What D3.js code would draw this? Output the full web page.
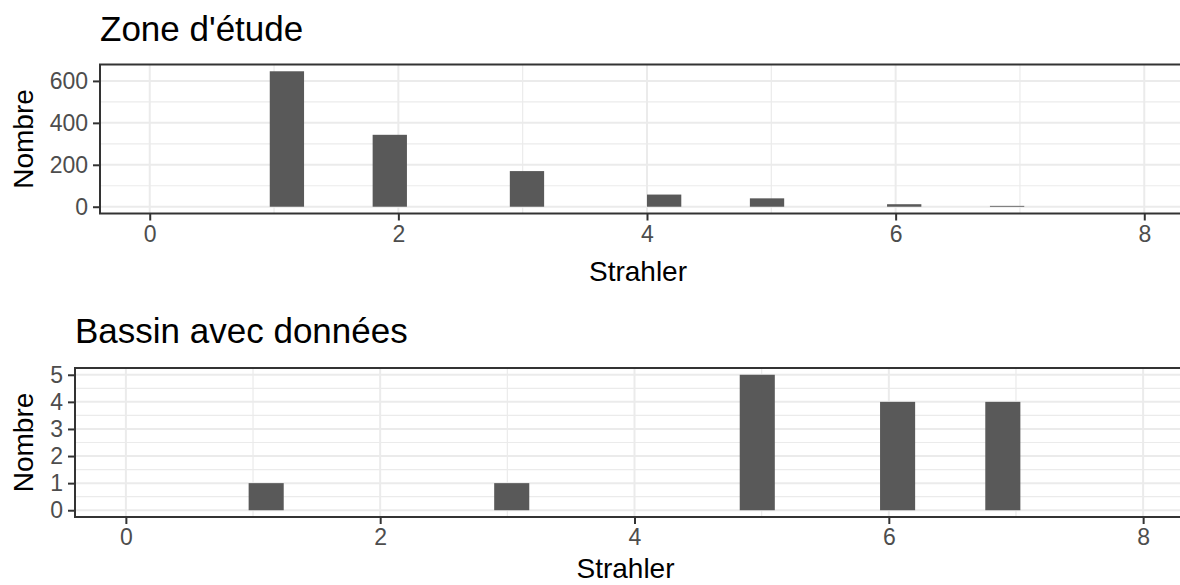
<!DOCTYPE html>
<html>
<head>
<meta charset="utf-8">
<script src="https://cdn.jsdelivr.net/npm/d3@7/dist/d3.min.js"></script>
<style>
  html, body { margin: 0; padding: 0; background: #ffffff; }
  svg { display: block; font-family: "Liberation Sans", Arial, Helvetica, sans-serif; }
</style>
</head>
<body>
<svg id="chart" width="1180" height="585"></svg>
<script>
// ---- data ----
const strahler = [1, 2, 3, 4, 5, 6, 7];
const countZone = [646, 343, 170, 58, 40, 12, 4];
const countBassin = [1, 0, 1, 0, 5, 4, 4];
const xTicks = [0, 2, 4, 6, 8];
const xMinorTicks = [1, 3, 5, 7];
const yTicksZone = [0, 200, 400, 600];
const yMinorZone = [100, 300, 500];
const yTicksBassin = [0, 1, 2, 3, 4, 5];
const yMinorBassin = [0.5, 1.5, 2.5, 3.5, 4.5];
const titles = ["Zone d'étude", "Bassin avec données"];
const xLabel = "Strahler";
const yLabel = "Nombre";
const xLimits = [0, 8];
const nBins = 30;

// ---- layout ----
const svg = d3.select("#chart");
const C = { bar: "#595959", grid: "#ebebeb", border: "#333333", tick: "#4d4d4d" };

const panels = [
  { title: titles[0], counts: countZone, yTicks: yTicksZone, yMinor: yMinorZone,
    left: 100, right: 1194, top: 64.5, bottom: 213.5, titleY: 41, xLabY: 281, yDomain: [0, 646] },
  { title: titles[1], counts: countBassin, yTicks: yTicksBassin, yMinor: yMinorBassin,
    left: 75, right: 1194, top: 368, bottom: 517, titleY: 343, xLabY: 578, yDomain: [0, 5] }
];

// histogram bins like ggplot2 (bins = 30 across the x limits)
const binW = (xLimits[1] - xLimits[0]) / (nBins - 1);
function binOf(v) {
  const k = Math.round((v - xLimits[0]) / binW);
  return { x0: xLimits[0] + (k - 0.5) * binW, x1: xLimits[0] + (k + 0.5) * binW };
}

panels.forEach(p => {
  const g = svg.append("g");
  const xr = xLimits[1] - xLimits[0];
  const x = d3.scaleLinear()
    .domain([xLimits[0] - 0.05 * xr, xLimits[1] + 0.05 * xr])
    .range([p.left, p.right]);
  const yr = p.yDomain[1] - p.yDomain[0];
  const y = d3.scaleLinear()
    .domain([p.yDomain[0] - 0.05 * yr, p.yDomain[1] + 0.05 * yr])
    .range([p.bottom, p.top]);

  const clipId = "clip" + Math.round(p.top);
  svg.append("clipPath").attr("id", clipId).append("rect")
    .attr("x", p.left).attr("y", p.top).attr("width", p.right - p.left).attr("height", p.bottom - p.top);
  const inner = g.append("g").attr("clip-path", `url(#${clipId})`);

  // minor grid
  inner.selectAll(".ymin").data(p.yMinor).join("line")
    .attr("x1", p.left).attr("x2", p.right).attr("y1", d => y(d)).attr("y2", d => y(d))
    .attr("stroke", C.grid).attr("stroke-width", 1.2);
  inner.selectAll(".xmin").data(xMinorTicks).join("line")
    .attr("y1", p.top).attr("y2", p.bottom).attr("x1", d => x(d)).attr("x2", d => x(d))
    .attr("stroke", C.grid).attr("stroke-width", 1.2);
  // major grid
  inner.selectAll(".ymaj").data(p.yTicks).join("line")
    .attr("x1", p.left).attr("x2", p.right).attr("y1", d => y(d)).attr("y2", d => y(d))
    .attr("stroke", C.grid).attr("stroke-width", 2);
  inner.selectAll(".xmaj").data(xTicks).join("line")
    .attr("y1", p.top).attr("y2", p.bottom).attr("x1", d => x(d)).attr("x2", d => x(d))
    .attr("stroke", C.grid).attr("stroke-width", 2);

  // bars
  const data = strahler.map((s, i) => Object.assign({ s, n: p.counts[i] }, binOf(s)));
  inner.selectAll(".bar").data(data.filter(d => d.n > 0)).join("rect")
    .attr("x", d => x(d.x0)).attr("width", d => x(d.x1) - x(d.x0))
    .attr("y", d => y(d.n)).attr("height", d => y(0) - y(d.n))
    .attr("fill", C.bar);

  // border
  g.append("rect").attr("x", p.left).attr("y", p.top)
    .attr("width", p.right - p.left).attr("height", p.bottom - p.top)
    .attr("fill", "none").attr("stroke", C.border).attr("stroke-width", 2);

  // axes
  const xa = g.append("g").attr("transform", `translate(0,${p.bottom})`)
    .call(d3.axisBottom(x).tickValues(xTicks).tickSize(7).tickPadding(5).tickFormat(d3.format("d")));
  const ya = g.append("g").attr("transform", `translate(${p.left},0)`)
    .call(d3.axisLeft(y).tickValues(p.yTicks).tickSize(7).tickPadding(5).tickFormat(d3.format("d")));
  [xa, ya].forEach(a => {
    a.select(".domain").remove();
    a.selectAll(".tick line").attr("stroke", C.border).attr("stroke-width", 2);
    a.selectAll(".tick text").attr("fill", C.tick).attr("font-size", 23)
      .attr("font-family", "Liberation Sans, Arial, sans-serif");
  });

  // titles
  g.append("text").attr("x", p.left).attr("y", p.titleY)
    .attr("font-size", 35).attr("fill", "#000").text(p.title);
  g.append("text").attr("x", (p.left + p.right) / 2 - 9).attr("y", p.xLabY)
    .attr("text-anchor", "middle").attr("font-size", 28).attr("fill", "#000").text(xLabel);
  g.append("text")
    .attr("transform", `translate(33,${(p.top + p.bottom) / 2}) rotate(-90)`)
    .attr("text-anchor", "middle").attr("font-size", 28).attr("fill", "#000").text(yLabel);
});
</script>
</body>
</html>
